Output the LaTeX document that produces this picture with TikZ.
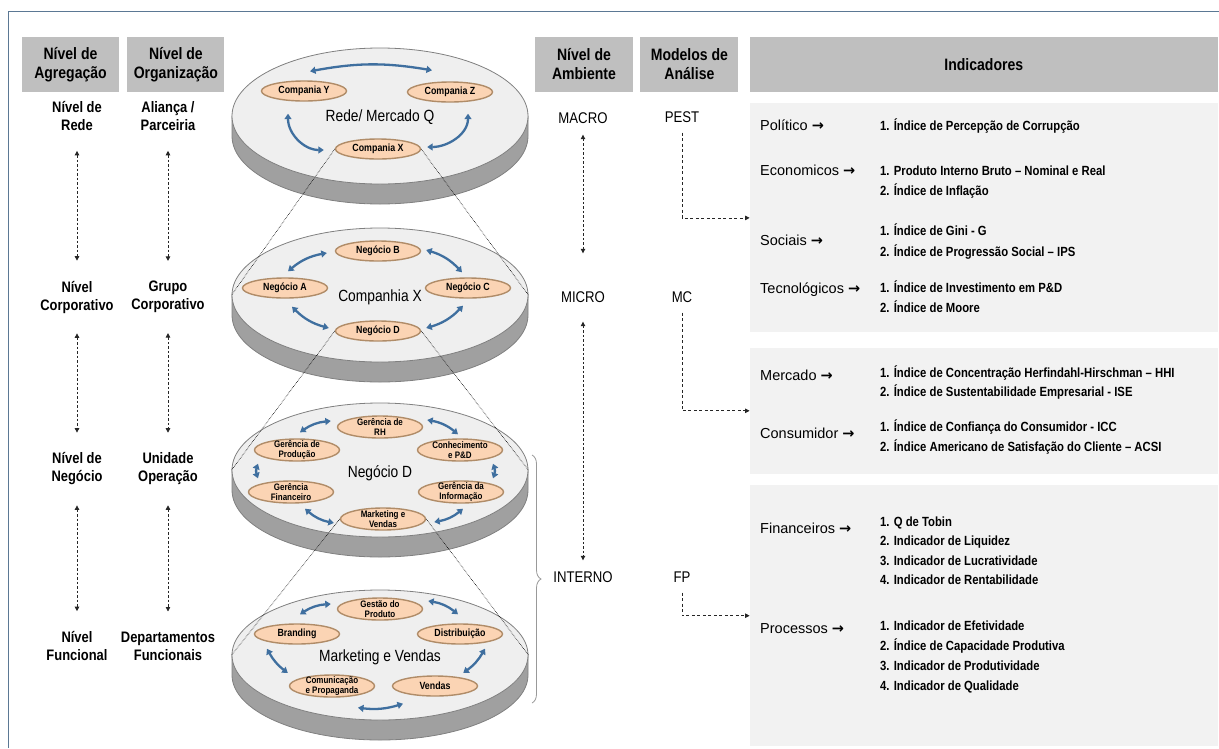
\documentclass[tikz,border=0pt]{standalone}
\usepackage{fontspec}
\setmainfont{Liberation Sans}
\newfontfamily\narrowfont{Liberation Sans}[FakeStretch=0.85]
\newfontfamily\symbfont{DejaVu Sans}
\usetikzlibrary{arrows.meta, positioning, shapes.geometric, calc, decorations.pathreplacing}

\definecolor{hdrgray}{HTML}{BFBFBF}
\definecolor{panelgray}{HTML}{F2F2F2}
\definecolor{disctopc}{HTML}{EFEFEF}
\definecolor{discsidec}{HTML}{A0A0A0}
\definecolor{discline}{HTML}{808080}
\definecolor{peach}{HTML}{FBD4B4}
\definecolor{peachline}{HTML}{B08C68}
\definecolor{flowblue}{HTML}{3F6F9F}
\definecolor{framecol}{HTML}{5B7894}

\newcommand{\catarrow}{{\symbfont\bfseries →}}

\begin{document}
\begin{tikzpicture}[
    x=1pt, y=1pt,
    hdr/.style = {
        fill=hdrgray, minimum height=55pt, inner sep=0pt, align=center,
        font=\narrowfont\bfseries\fontsize{16.5}{19}\selectfont
    },
    panel/.style = {
        fill=panelgray, minimum width=468pt, inner sep=0pt
    },
    lvl/.style = {
        align=center, inner sep=0pt,
        font=\narrowfont\bfseries\fontsize{15.2}{18}\selectfont
    },
    env/.style = {
        inner sep=0pt, font=\narrowfont\fontsize{15.5}{18}\selectfont
    },
    disctop/.style = {
        ellipse, draw=discline, fill=disctopc, line width=0.8pt,
        minimum width=296pt, inner sep=0pt
    },
    discside/.style = {
        draw=discline, fill=discsidec, line width=0.8pt
    },
    disclabel/.style = {
        inner sep=0pt, font=\narrowfont\fontsize{16.2}{19}\selectfont
    },
    unit/.style = {
        ellipse, draw=peachline, fill=peach, line width=1.4pt,
        minimum width=85pt, minimum height=20pt, inner xsep=0pt, inner ysep=-2.5pt,
        align=center, font=\narrowfont\bfseries\fontsize{10.4}{10}\selectfont
    },
    unittwo/.style = {
        unit, minimum height=22pt, font=\narrowfont\bfseries\fontsize{9.4}{9.8}\selectfont
    },
    flow/.style = {
        draw=flowblue, line width=2.3pt, <->, >={Triangle[length=5.5pt,width=7pt]}
    },
    lvlarrow/.style = {
        draw=black!85, line width=0.8pt, dash pattern=on 2.5pt off 2pt,
        <->, >={Triangle[length=4.5pt,width=4.5pt]}
    },
    modarrow/.style = {
        draw=black!85, line width=0.8pt, dash pattern=on 3pt off 2.5pt,
        ->, >={Triangle[length=4.5pt,width=4.5pt]}
    },
    zoomline/.style = {
        draw=black, line width=0.6pt, densely dotted
    },
    cat/.style = {
        anchor=west, inner sep=0pt, text height=10.5pt, text depth=3pt,
        font=\fontsize{14.5}{16}\selectfont
    },
    item/.style = {
        anchor=west, inner sep=0pt, text height=9.5pt, text depth=2.8pt,
        font=\narrowfont\bfseries\fontsize{13.3}{14}\selectfont
    }
]
\useasboundingbox (0,0) rectangle (1219,-748);
\draw[framecol, line width=0.8pt] (8,-748) -- (8,-11) -- (1219,-11);

% headers
\node[hdr, minimum width=97pt] (hAgg) at (70.5,-64.5) {Nível de\\Agregação};
\node[hdr, minimum width=97pt] (hOrg) [right=8pt of hAgg] {Nível de\\Organização};
\node[hdr, minimum width=98pt] (hAmb) at (584,-64.5) {Nível de\\Ambiente};
\node[hdr, minimum width=98pt] (hMod) [right=7pt of hAmb] {Modelos de\\Análise};
\node[hdr, minimum width=468pt] (hInd) [right=11pt of hMod] {Indicadores};

% panels
\node[panel, minimum height=229pt] (panel1) [below=11pt of hInd] {};
\node[panel, minimum height=126pt] (panel2) [below=15pt of panel1] {};
\node[panel, minimum height=261pt] (panel3) [below=11pt of panel2] {};

% levels
\node[lvl] (agg1) at (77,-116) {Nível de\\Rede};
\node[lvl] (agg2) at (77,-297) {Nível\\Corporativo};
\node[lvl] (agg3) at (77,-469) {Nível de\\Negócio};
\node[lvl] (agg4) at (77,-646) {Nível\\Funcional};
\node[lvl] (org1) at (168,-116) {Aliança /\\Parceiria};
\node[lvl] (org2) at (168,-297) {Grupo\\Corporativo};
\node[lvl] (org3) at (168,-469) {Unidade\\Operação};
\node[lvl] (org4) at (168,-646) {Departamentos\\Funcionais};
\draw[lvlarrow, shorten <=20pt, shorten >=20pt] (agg1) -- (agg2);
\draw[lvlarrow, shorten <=20pt, shorten >=20pt] (agg2) -- (agg3);
\draw[lvlarrow, shorten <=20pt, shorten >=20pt] (agg3) -- (agg4);
\draw[lvlarrow, shorten <=20pt, shorten >=20pt] (org1) -- (org2);
\draw[lvlarrow, shorten <=20pt, shorten >=20pt] (org2) -- (org3);
\draw[lvlarrow, shorten <=20pt, shorten >=20pt] (org3) -- (org4);

% discs
\foreach \nm/\cy/\ry in {d1/116/68, d2/295/67, d3/470/67, d4/655/65} {
  \filldraw[discside] (232,-\cy) -- (232,-\cy-20)
      arc[start angle=180, end angle=360, x radius=148, y radius=\ry] -- (528,-\cy) -- cycle;
  \node[disctop, minimum height=2*\ry] (\nm) at (380,-\cy) {};
}
\node[disclabel] at (380,-117) {Rede/ Mercado Q};
\node[disclabel] at (380,-297) {Companhia X};
\node[disclabel] at (380,-473) {Negócio D};
\node[disclabel] at (380,-657) {Marketing e Vendas};

% rede
\node[unit] (cY) at (304,-91) {Compania Y};
\node[unit] (cZ) at (450,-92) {Compania Z};
\node[unit] (cX) at (378,-149) {Compania X};
\draw[flow] ($(cY.north)+(6,9)$) to[bend left=10] ($(cZ.north)+(-18,11)$);
\draw[flow] ($(cY.south)+(-16,-12)$) to[out=-90, in=180] ($(cX.west)+(-11,-1)$);
\draw[flow] ($(cZ.south)+(18,-11)$) to[out=-90, in=0] ($(cX.east)+(6,2)$);

% companhia
\node[unit] (nB) at (378,-251) {Negócio B};
\node[unit] (nA) at (285,-288) {Negócio A};
\node[unit] (nC) at (468,-288) {Negócio C};
\node[unit] (nD) at (378,-331) {Negócio D};
\draw[flow] ($(nA.north)+(3,6)$) to[bend left=15] ($(nB.west)+(-8,-2)$);
\draw[flow] ($(nB.east)+(5,1)$) to[bend left=15] ($(nC.north)+(-6,5)$);
\draw[flow] ($(nA.south)+(7,-8)$) to[bend right=15] ($(nD.west)+(-6,3)$);
\draw[flow] ($(nC.south)+(-5,-7)$) to[bend left=15] ($(nD.east)+(5,3)$);

% negocio
\node[unittwo] (gRH) at (380,-427) {Gerência de\\RH};
\node[unittwo] (gPr) at (297,-450) {Gerência de\\Produção};
\node[unittwo] (gCo) at (460,-450) {Conhecimento\\e P\&D};
\node[unittwo] (gFi) at (291,-492) {Gerência\\Financeiro};
\node[unittwo] (gIn) at (461,-492) {Gerência da\\Informação};
\node[unittwo] (gMV) at (383,-519) {Marketing e\\Vendas};
\draw[flow] ($(gPr.north)+(3,6)$) to[bend left=15] ($(gRH.west)+(-6,6)$);
\draw[flow] ($(gRH.east)+(4,7)$) to[bend left=15] ($(gCo.north)+(-2,4)$);
\draw[flow] ($(gPr.south)+(-39,-2)$) to[bend right=20] ($(gFi.north)+(-33,2)$);
\draw[flow] ($(gCo.south)+(33,-2)$) to[bend left=20] ($(gIn.north)+(32,2)$);
\draw[flow] ($(gFi.south)+(14,-5)$) to[bend right=15] ($(gMV.west)+(-6,-4)$);
\draw[flow] ($(gIn.south)+(2,-5)$) to[bend left=15] ($(gMV.east)+(8,-3)$);

% marketing
\node[unittwo] (mGe) at (380,-609) {Gestão do\\Produto};
\node[unit] (mBr) at (297,-634) {Branding};
\node[unit] (mDi) at (460,-634) {Distribuição};
\node[unittwo] (mCo) at (332,-686) {Comunicação\\e Propaganda};
\node[unit] (mVe) at (435,-686) {Vendas};
\draw[flow] ($(mBr.north)+(3,9)$) to[bend left=15] ($(mGe.west)+(-6,5)$);
\draw[flow] ($(mGe.east)+(5,8)$) to[bend left=15] ($(mDi.north)+(-2,9)$);
\draw[flow] ($(mBr.south)+(-30,-4)$) to[bend right=12] ($(mCo.west)+(-1,13)$);
\draw[flow] ($(mDi.south)+(25,-4)$) to[bend left=12] ($(mVe.east)+(-15,13)$);
\draw[flow] ($(mCo.south)+(26,-10)$) to[bend right=12] ($(mVe.south)+(-32,-7)$);

% zoom lines
\draw[zoomline] (cX.west) -- (d2.west);
\draw[zoomline] (cX.east) -- (d2.east);
\draw[zoomline] (nD.west) -- (d3.west);
\draw[zoomline] (nD.east) -- (d3.east);
\draw[zoomline] (gMV.west) -- (d4.west);
\draw[zoomline] (gMV.east) -- (d4.east);

% brace
\draw[black!40, line width=0.8pt, decorate, decoration={brace, amplitude=9pt}]
    (532,-455) -- (532,-703);

% ambiente
\node[env] (macro) at (583,-118) {MACRO};
\node[env] (micro) at (583,-297) {MICRO};
\node[env] (interno) at (583,-577) {INTERNO};
\draw[lvlarrow, shorten <=11pt, shorten >=38pt] (macro) -- (micro);
\draw[lvlarrow, shorten <=19pt, shorten >=11pt] (micro) -- (interno);

% modelos
\node[env] (pest) at (682,-117) {PEST};
\node[env] (mc) at (682,-297) {MC};
\node[env] (fp) at (682,-577) {FP};
\draw[modarrow, shorten <=10pt] (pest) |- (panel1.west);
\draw[modarrow, shorten <=10pt] (mc) |- (panel2.west);
\draw[modarrow, shorten <=10pt] (fp) |- (panel3.west);

% indicadores
\node[cat] (pol) at (760,-127) {Político \catarrow};
\node[item] (pol1) at (880,-127) {1. Índice de Percepção de Corrupção};
\node[cat] (eco) at (760,-172) {Economicos \catarrow};
\node[item] (eco1) at (880,-172) {1. Produto Interno Bruto – Nominal e Real};
\node[item] (eco2) at (880,-192) {2. Índice de Inflação};
\node[cat] (soc) at (760,-242) {Sociais \catarrow};
\node[item] (soc1) at (880,-232) {1. Índice de Gini - G};
\node[item] (soc2) at (880,-253) {2. Índice de Progressão Social – IPS};
\node[cat] (tec) at (760,-290) {Tecnológicos \catarrow};
\node[item] (tec1) at (880,-289) {1. Índice de Investimento em P\&D};
\node[item] (tec2) at (880,-309) {2. Índice de Moore};

\node[cat] (mer) at (760,-377) {Mercado \catarrow};
\node[item] (mer1) at (880,-374) {1. Índice de Concentração Herfindahl-Hirschman – HHI};
\node[item] (mer2) at (880,-393) {2. Índice de Sustentabilidade Empresarial - ISE};
\node[cat] (con) at (760,-435) {Consumidor \catarrow};
\node[item] (con1) at (880,-428) {1. Índice de Confiança do Consumidor - ICC};
\node[item] (con2) at (880,-448) {2. Índice Americano de Satisfação do Cliente – ACSI};

\node[cat] (fin) at (760,-530) {Financeiros \catarrow};
\node[item] (fin1) at (880,-523) {1. Q de Tobin};
\node[item] (fin2) at (880,-542) {2. Indicador de Liquidez};
\node[item] (fin3) at (880,-562) {3. Indicador de Lucratividade};
\node[item] (fin4) at (880,-581) {4. Indicador de Rentabilidade};
\node[cat] (pro) at (760,-630) {Processos \catarrow};
\node[item] (pro1) at (880,-627) {1. Indicador de Efetividade};
\node[item] (pro2) at (880,-647) {2. Índice de Capacidade Produtiva};
\node[item] (pro3) at (880,-667) {3. Indicador de Produtividade};
\node[item] (pro4) at (880,-687) {4. Indicador de Qualidade};
\end{tikzpicture}
\end{document}
